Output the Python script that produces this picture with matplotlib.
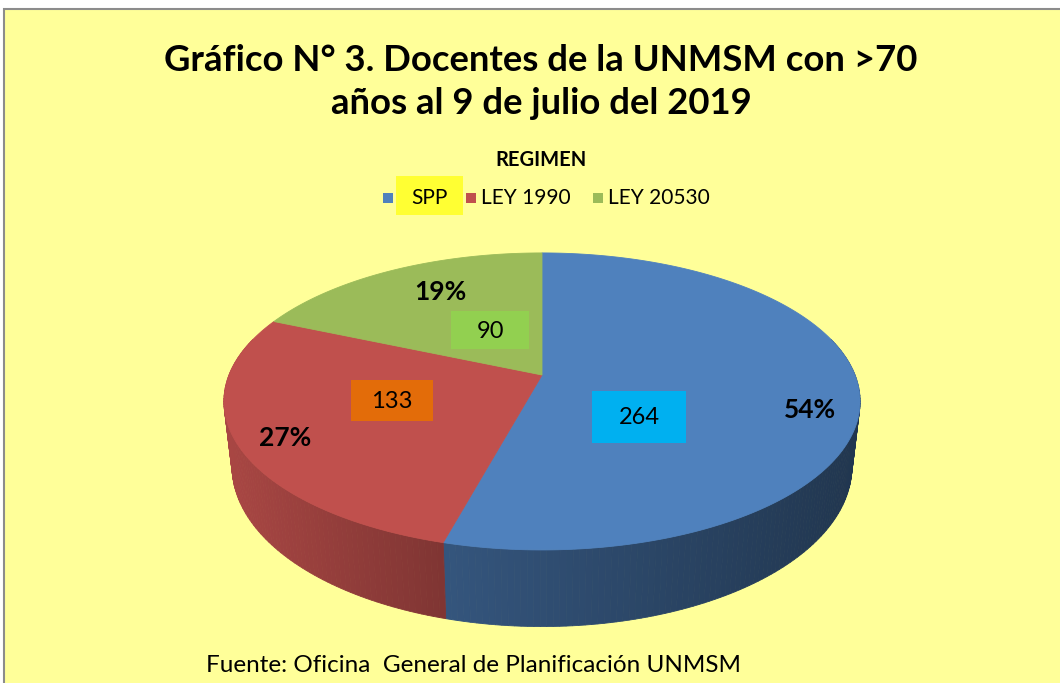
import numpy as np
import matplotlib
matplotlib.use('Agg')
import matplotlib.pyplot as plt
from matplotlib.patches import Polygon, Rectangle
from matplotlib.colors import to_rgb

# datos del grafico
regimen = ['SPP', 'LEY 1990', 'LEY 20530']
docentes = [264, 133, 90]
porcentajes = ['54%', '27%', '19%']
colores = ['#4F81BD', '#C0504D', '#9BBB59']
colores_caja = ['#00B0F0', '#E36C09', '#92D050']

titulo = 'Gráfico N° 3. Docentes de la UNMSM con >70\naños al 9 de julio del 2019'
fuente_txt = 'Fuente: Oficina  General de Planificación UNMSM'

plt.rcParams['font.family'] = ['Lato', 'DejaVu Sans']

# geometria del pie 3D (coordenadas en pixeles, perspectiva simple)
cx, cy = 542, 375
A, B, k = 313, 143.8, 0.178
A2, B2, dy = 305, 155, 63


def top_pt(phi):
    u, v = np.cos(phi), np.sin(phi)
    w = 1 + k * v
    return cx + A * u / w, cy - B * v / w


def bot_pt(phi):
    u, v = np.cos(phi), np.sin(phi)
    w = 1 + k * v
    return cx + A2 * u / w, cy + dy - B2 * v / w


def shade(color, x):
    t = np.clip((x - 224) / 636.0, 0, 1)
    f = np.interp(t, [0, 0.35, 1], [0.88, 0.66, 0.42])
    return tuple(c * f for c in to_rgb(color))


fig = plt.figure(figsize=(10.6, 6.83), dpi=100)
fig.patch.set_facecolor('white')
ax = fig.add_axes([0, 0, 1, 1])
ax.set_xlim(0, 1060)
ax.set_ylim(683, 0)
ax.axis('off')

ax.add_patch(Rectangle((4, 9), 1070, 690, facecolor='#FFFF99', edgecolor='#8C8C8C', lw=1.5, zorder=0))

# angulos de cada porcion (desde arriba, sentido horario)
frac = np.array(docentes) / np.sum(docentes)
bordes = 90 - np.concatenate([[0], np.cumsum(frac)]) * 360
frente = (-195, 15)

# paredes laterales
for i, col in enumerate(colores):
    ini, fin = bordes[i], bordes[i + 1]
    a0, a1 = max(fin, frente[0]), min(ini, frente[1])
    if a0 >= a1:
        continue
    angs = np.radians(np.linspace(a0, a1, int((a1 - a0) / 1.0) + 2))
    for a, b in zip(angs[:-1], angs[1:]):
        p1, p2 = top_pt(a), top_pt(b)
        q1, q2 = bot_pt(a), bot_pt(b)
        c = shade(col, (p1[0] + p2[0]) / 2)
        ax.add_patch(Polygon([p1, p2, q2, q1], closed=True, facecolor=c, edgecolor=c, lw=0.6, zorder=2))

# caras superiores
for i, col in enumerate(colores):
    angs = np.radians(np.linspace(bordes[i], bordes[i + 1], 200))
    pts = [(cx, cy)] + [top_pt(a) for a in angs]
    ax.add_patch(Polygon(pts, closed=True, facecolor=col, edgecolor=col, lw=0.6, zorder=3))

# etiquetas de porcentaje
pos_pct = [(810, 410), (285, 438), (440, 292)]
for (x, y), txt in zip(pos_pct, porcentajes):
    ax.text(x, y, txt, ha='center', va='center', fontsize=19, weight='bold', color='black', zorder=5)

# etiquetas de valor con caja
cajas = [(592, 391, 94, 52), (351, 380, 82, 41), (451, 311, 78, 38)]
for (x, y, w, h), val, cc in zip(cajas, docentes, colores_caja):
    ax.add_patch(Rectangle((x, y), w, h, facecolor=cc, edgecolor='none', zorder=4))
    ax.text(x + w / 2, y + h / 2 + 1, str(val), ha='center', va='center', fontsize=17, color='black', zorder=5)

# titulo
ax.text(541, 82, titulo, ha='center', va='center', fontsize=26.3, weight='bold', linespacing=1.4, zorder=5)

# leyenda
ax.text(541, 160, 'REGIMEN', ha='center', va='center', fontsize=14.5, weight='bold', zorder=5)
ax.add_patch(Rectangle((396, 176), 67, 39, facecolor='#FFFF33', edgecolor='none', zorder=4))
ley_cuadros = [383, 466, 593]
ley_textos = [429, 481, 608]
for xc, xt, lab, col in zip(ley_cuadros, ley_textos, regimen, colores):
    ax.add_patch(Rectangle((xc, 193), 10, 10, facecolor=col, edgecolor='none', zorder=5))
    ax.text(xt, 198, lab, ha='center' if lab == 'SPP' else 'left', va='center', fontsize=15, zorder=5)

# fuente
ax.text(473, 665, fuente_txt, ha='center', va='center', fontsize=17.5, zorder=5)

fig.savefig('out.png', dpi=100, facecolor=fig.get_facecolor())
